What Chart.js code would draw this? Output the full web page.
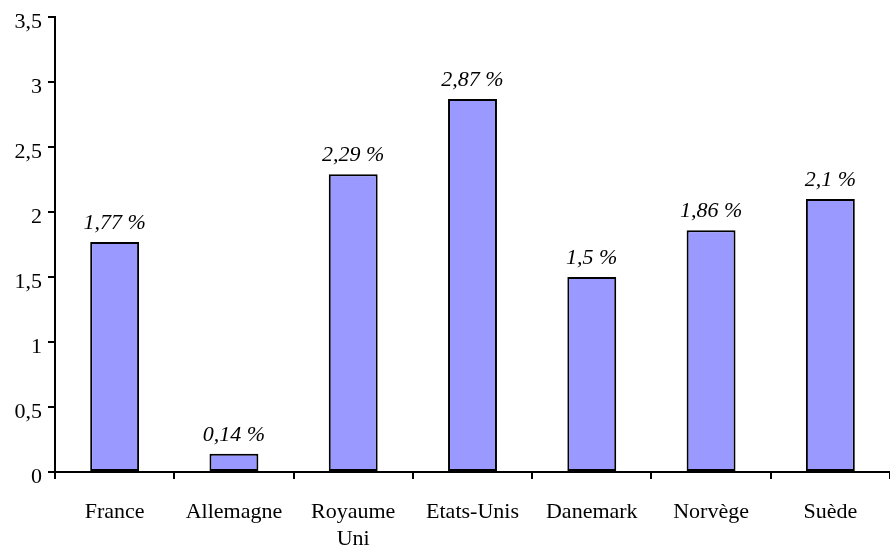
<!DOCTYPE html>
<html>
<head>
<meta charset="utf-8">
<script src="https://cdn.jsdelivr.net/npm/chart.js@4"></script>
<style>
  html, body { margin: 0; padding: 0; background: #fff; }
  #wrap { width: 890px; height: 546px; position: relative; }
</style>
</head>
<body>
<div id="wrap"><canvas id="chart"></canvas></div>
<script>
// Countries and their rates (%)
const categories = ['France', 'Allemagne', ['Royaume', 'Uni'], 'Etats-Unis', 'Danemark', 'Norvège', 'Suède'];
const values = [1.77, 0.14, 2.29, 2.87, 1.5, 1.86, 2.1];
const yTicks = [0, 0.5, 1, 1.5, 2, 2.5, 3, 3.5];

const fr = (v) => String(v).replace('.', ',');
const serif = "'Liberation Serif', 'Times New Roman', serif";

// Italic value labels above each bar
const valueLabels = {
  id: 'valueLabels',
  afterDatasetsDraw(chart) {
    const { ctx } = chart;
    const meta = chart.getDatasetMeta(0);
    ctx.save();
    ctx.fillStyle = '#000';
    ctx.font = 'italic 22px ' + serif;
    ctx.textAlign = 'center';
    ctx.textBaseline = 'alphabetic';
    meta.data.forEach((bar, i) => {
      ctx.fillText(fr(values[i]) + ' %', bar.x, bar.y - 13);
    });
    ctx.restore();
  },
};

new Chart(document.getElementById('chart'), {
  type: 'bar',
  data: {
    labels: categories,
    datasets: [{
      data: values,
      backgroundColor: '#9999ff',
      borderColor: '#000',
      borderWidth: 2,
      borderSkipped: false,
      categoryPercentage: 1,
      barPercentage: 0.41,
    }],
  },
  options: {
    responsive: true,
    maintainAspectRatio: false,
    animation: false,
    layout: { padding: { top: 17, right: 0, left: 0, bottom: 0 } },
    plugins: { legend: { display: false }, tooltip: { enabled: false } },
    scales: {
      x: {
        offset: true,
        grid: { display: true, drawOnChartArea: false, offset: true, tickLength: 7, color: '#000', lineWidth: 2 },
        border: { color: '#000', width: 2 },
        ticks: { color: '#000', font: { family: serif, size: 22, lineHeight: 1.25 }, padding: 19, maxRotation: 0, autoSkip: false },
        afterFit(scale) { scale.height = 74; scale.paddingLeft = 0; scale.paddingRight = 0; },
      },
      y: {
        min: 0,
        max: 3.5,
        afterBuildTicks(scale) { scale.ticks = yTicks.map((v) => ({ value: v })); },
        grid: { display: true, drawOnChartArea: false, tickLength: 7, color: '#000', lineWidth: 2 },
        border: { color: '#000', width: 2 },
        ticks: { color: '#000', font: { family: serif, size: 22 }, padding: 6, labelOffset: 5, callback: (v) => fr(v) },
        afterFit(scale) { scale.width = 55; scale.paddingTop = 0; scale.paddingBottom = 0; },
      },
    },
  },
  plugins: [valueLabels],
});
</script>
</body>
</html>
